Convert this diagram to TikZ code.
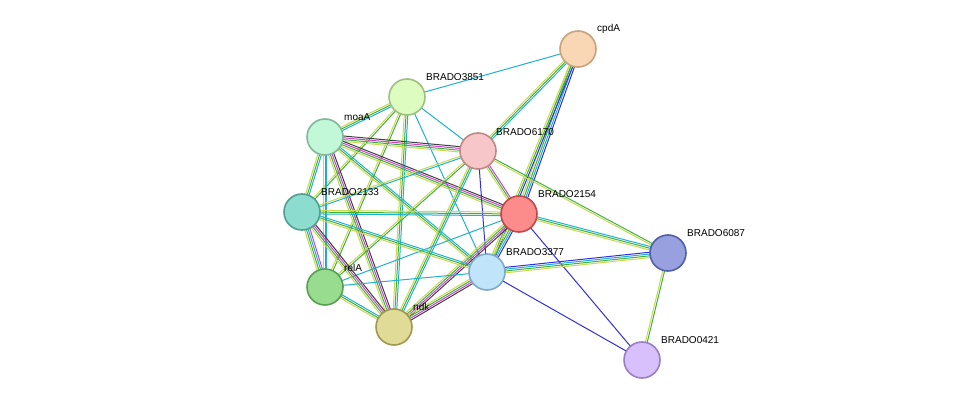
\documentclass[tikz,border=0pt]{standalone}
\usepackage{fontspec}
\setmainfont{Liberation Sans}
\usetikzlibrary{calc}
\definecolor{yg}{HTML}{C8D850}
\definecolor{gr}{HTML}{40B040}
\definecolor{cy}{HTML}{20B0D0}
\definecolor{bl}{HTML}{3030E0}
\definecolor{mg}{HTML}{D040D0}
\definecolor{bk}{HTML}{404040}
\tikzset{
  prot/.style={circle,draw,line width=1.6pt,minimum size=36pt,inner sep=0pt},
  lbl/.style={font=\fontsize{10}{12}\selectfont,inner sep=1pt,anchor=south west}
}
% edge a->b drawn as parallel coloured lines: colour/offset
\newcommand{\edge}[3]{%
  \foreach \c/\o in {#3} {
    \draw[\c,line width=1pt] ($(#1)!\o pt!90:(#2)$) -- ($(#2)!\o pt!-90:(#1)$);
  }}
\begin{document}
\begin{tikzpicture}[x=1pt,y=-1pt]
  \useasboundingbox (0,0) rectangle (976,406);
  \coordinate (cpdA) at (578,49);
  \coordinate (b3851) at (407,97);
  \coordinate (moaA) at (325,137);
  \coordinate (b6170) at (478,151);
  \coordinate (b2154) at (519,214);
  \coordinate (b2133) at (302,212);
  \coordinate (b6087) at (668,253);
  \coordinate (b3377) at (487,272);
  \coordinate (relA) at (325,287);
  \coordinate (ndk) at (394,327);
  \coordinate (b0421) at (642,360);

  \edge{cpdA}{b3851}{cy/0}
  \edge{cpdA}{b6170}{yg/-1.8,gr/0,cy/1.8}
  \edge{cpdA}{b2154}{yg/-2.7,gr/-0.9,cy/0.9,bl/2.7}
  \edge{cpdA}{b3377}{yg/-1.8,gr/0,bl/1.8}
  \edge{b3851}{moaA}{yg/-1.8,gr/0,cy/1.8}
  \edge{b3851}{b6170}{cy/0}
  \edge{b3851}{b2133}{yg/-0.9,gr/0.9}
  \edge{b3851}{relA}{yg/-0.9,gr/0.9}
  \edge{b3851}{ndk}{yg/-1.8,gr/0,cy/1.8}
  \edge{b3851}{b3377}{cy/0}
  \edge{moaA}{b6170}{yg/-2.7,gr/-0.9,mg/0.9,bk/2.7}
  \edge{moaA}{b2154}{yg/-2.7,gr/-0.9,mg/0.9,bk/2.7}
  \edge{moaA}{b2133}{yg/-1.8,gr/0,cy/1.8}
  \edge{moaA}{relA}{yg/-1.8,gr/0,cy/1.8}
  \edge{moaA}{ndk}{yg/-2.7,gr/-0.9,mg/0.9,bk/2.7}
  \edge{moaA}{b3377}{yg/-1.8,gr/0,cy/1.8}
  \edge{b6170}{b2154}{yg/-1.8,gr/0,mg/1.8}
  \edge{b6170}{b2133}{yg/-0.9,cy/0.9}
  \edge{b6170}{relA}{yg/-0.9,gr/0.9}
  \edge{b6170}{ndk}{yg/-1.8,gr/0,cy/1.8}
  \edge{b6170}{b3377}{bl/0}
  \edge{b6170}{b6087}{yg/-0.9,gr/0.9}
  \edge{b2154}{b2133}{yg/-1.8,gr/0,cy/1.8}
  \edge{b2154}{b3377}{yg/-2.7,gr/-0.9,cy/0.9,bl/2.7}
  \edge{b2154}{b6087}{yg/-1.8,gr/0,cy/1.8}
  \edge{b2154}{b0421}{bl/0}
  \edge{b2154}{ndk}{yg/-2.7,gr/-0.9,mg/0.9,bk/2.7}
  \edge{b2154}{relA}{cy/0}
  \edge{b2133}{b3377}{yg/-1.8,gr/0,cy/1.8}
  \edge{b2133}{relA}{yg/-2.7,gr/-0.9,cy/0.9,mg/2.7}
  \edge{b2133}{ndk}{yg/-2.7,gr/-0.9,mg/0.9,bk/2.7}
  \edge{b3377}{b6087}{yg/-2.7,gr/-0.9,cy/0.9,bl/2.7}
  \edge{b3377}{b0421}{bl/0}
  \edge{b3377}{relA}{cy/0}
  \edge{b3377}{ndk}{yg/-2.7,gr/-0.9,mg/0.9,bk/2.7}
  \edge{b6087}{b0421}{yg/-0.9,gr/0.9}
  \edge{relA}{ndk}{yg/-1.8,gr/0,cy/1.8}

  \node[prot,fill={rgb,255:red,249;green,214;blue,180},draw={rgb,255:red,201;green,162;blue,126}] (ncpdA) at (cpdA) {};
  \node[prot,fill={rgb,255:red,221;green,252;blue,192},draw={rgb,255:red,159;green,192;blue,128}] (n3851) at (b3851) {};
  \node[prot,fill={rgb,255:red,194;green,248;blue,216},draw={rgb,255:red,128;green,184;blue,152}] (nmoaA) at (moaA) {};
  \node[prot,fill={rgb,255:red,246;green,198;blue,200},draw={rgb,255:red,192;green,136;blue,136}] (n6170) at (b6170) {};
  \node[prot,fill={rgb,255:red,252;green,140;blue,140},draw={rgb,255:red,192;green,72;blue,72}] (n2154) at (b2154) {};
  \node[prot,fill={rgb,255:red,140;green,220;blue,208},draw={rgb,255:red,80;green,160;blue,144}] (n2133) at (b2133) {};
  \node[prot,fill={rgb,255:red,152;green,160;blue,224},draw={rgb,255:red,80;green,96;blue,168}] (n6087) at (b6087) {};
  \node[prot,fill={rgb,255:red,192;green,228;blue,250},draw={rgb,255:red,128;green,168;blue,200}] (n3377) at (b3377) {};
  \node[prot,fill={rgb,255:red,152;green,220;blue,144},draw={rgb,255:red,88;green,160;blue,80}] (nrelA) at (relA) {};
  \node[prot,fill={rgb,255:red,224;green,220;blue,152},draw={rgb,255:red,160;green,152;blue,80}] (nndk) at (ndk) {};
  \node[prot,fill={rgb,255:red,216;green,192;blue,252},draw={rgb,255:red,152;green,128;blue,192}] (n0421) at (b0421) {};

  \node[lbl] at ($(cpdA)+(18,-14)$) {cpdA};
  \node[lbl] at ($(b3851)+(18,-15)$) {BRADO3851};
  \node[lbl] at ($(moaA)+(18,-15)$) {moaA};
  \node[lbl] at ($(b6170)+(17,-14)$) {BRADO6170};
  \node[lbl] at ($(b2154)+(18,-15)$) {BRADO2154};
  \node[lbl] at ($(b2133)+(18,-15)$) {BRADO2133};
  \node[lbl] at ($(b6087)+(18,-15)$) {BRADO6087};
  \node[lbl] at ($(b3377)+(18,-15)$) {BRADO3377};
  \node[lbl] at ($(relA)+(18,-14)$) {relA};
  \node[lbl] at ($(ndk)+(18,-15)$) {ndk};
  \node[lbl] at ($(b0421)+(18,-15)$) {BRADO0421};
\end{tikzpicture}
\end{document}
